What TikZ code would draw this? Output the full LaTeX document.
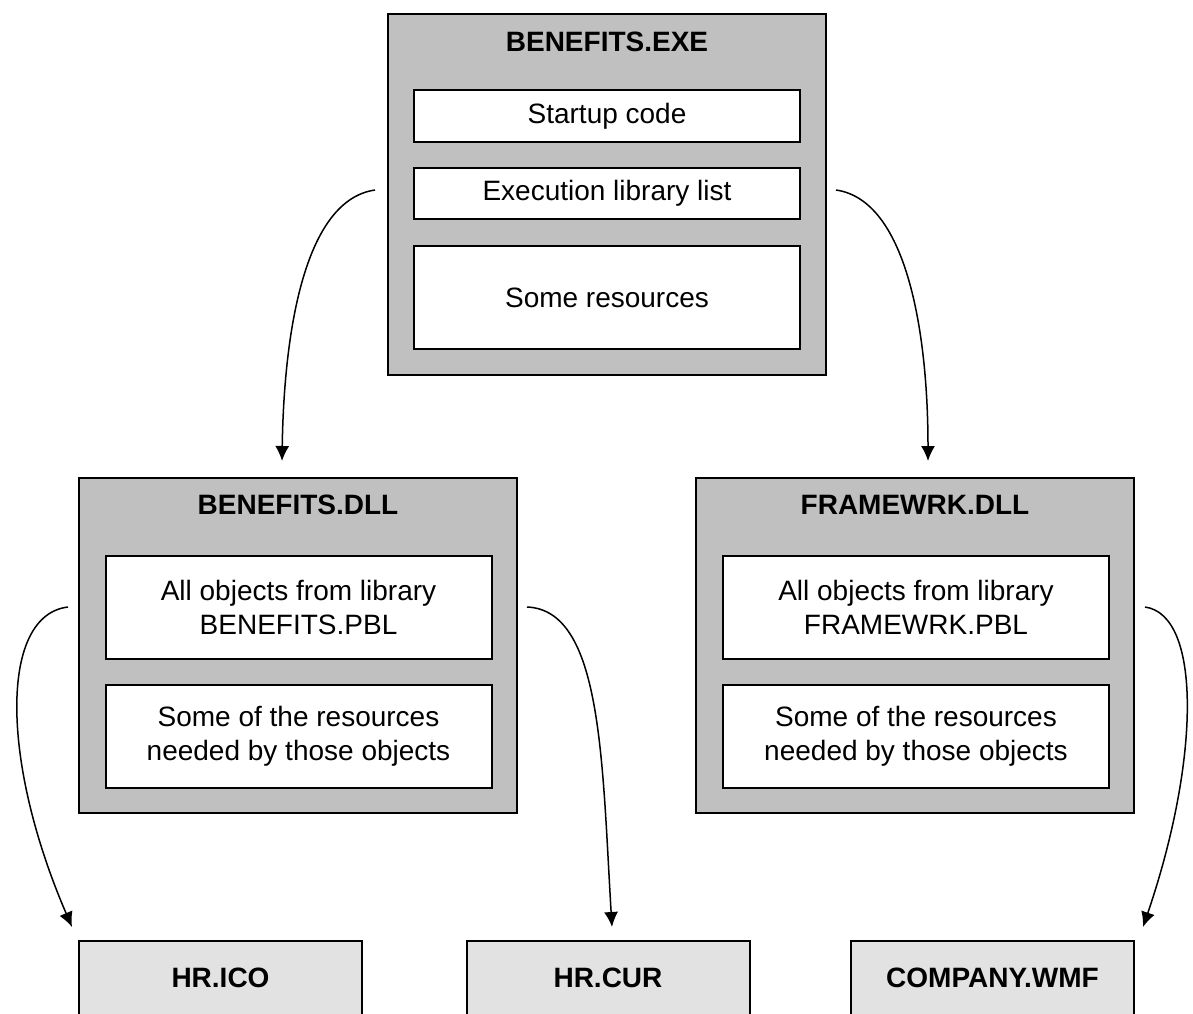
\documentclass[tikz,border=0pt]{standalone}
\usepackage{fontspec}
\setmainfont{Liberation Sans}
\usetikzlibrary{arrows.meta}

\definecolor{boxgray}{RGB}{192,192,192}
\definecolor{filegray}{RGB}{226,226,226}

\begin{document}
\begin{tikzpicture}[
    x=1pt, y=-1pt,
    font=\fontsize{28}{34}\selectfont,
    -{Latex[length=15pt,width=14pt]}, % arrows point to the target
    line width=1.5pt,
    module/.style={draw, -, line width=2pt, fill=boxgray, minimum width=438pt, inner sep=0pt},
    part/.style={draw, -, line width=2pt, fill=white, minimum width=386pt, inner sep=0pt, align=center},
    resfile/.style={draw, -, line width=2pt, fill=filegray, minimum width=283pt, minimum height=100pt, inner sep=0pt},
    title/.style={font=\fontsize{28}{34}\selectfont\bfseries}
]
\useasboundingbox (0,0) rectangle (1193,1013);
\clip (0,0) rectangle (1193,1013);

% Define the nodes
\node[module, minimum height=361pt] (exe) at (607,194.5) {};
\node[title] (exet) at (607,42) {BENEFITS.EXE};
\node[part, minimum height=52pt] (start) at (607,116) {Startup code};
\node[part, minimum height=51pt] (list) at (607,193.5) {Execution library list};
\node[part, minimum height=103pt] (res) at (607,297.5) {Some resources};

\node[module, minimum height=335pt] (bdll) at (298,645.5) {};
\node[title] (bdllt) at (298,505) {BENEFITS.DLL};
\node[part, minimum height=103pt] (bobj) at (298.5,607.5) {All objects from library\\BENEFITS.PBL};
\node[part, minimum height=103pt] (bres) at (298.5,736.5) {Some of the resources\\needed by those objects};

\node[module, minimum height=335pt] (fdll) at (915,645.5) {};
\node[title] (fdllt) at (915,505) {FRAMEWRK.DLL};
\node[part, minimum height=103pt] (fobj) at (916,607.5) {All objects from library\\FRAMEWRK.PBL};
\node[part, minimum height=103pt] (fres) at (916,736.5) {Some of the resources\\needed by those objects};

\node[resfile] (ico) at (220.5,991) {};
\node[title] at (220.5,978) {HR.ICO};
\node[resfile] (cur) at (608,991) {};
\node[title] at (608,978) {HR.CUR};
\node[resfile] (wmf) at (992.5,991) {};
\node[title] at (992.5,978) {COMPANY.WMF};

% Free ends of the connectors
\coordinate (exeL) at (375,190);
\coordinate (exeR) at (836,190);
\coordinate (bL) at (68,607);
\coordinate (bR) at (527,607);
\coordinate (fR) at (1145,607);

% Define the directed edges
\draw (exeL) .. controls (305,200) and (284,330) .. ([yshift=16pt]bdll.north -| 282,0);
\draw (exeR) .. controls (906,200) and (928,330) .. ([yshift=16pt]fdll.north -| 928,0);
\draw (bL) .. controls (0,615) and (0,760) .. ([yshift=13pt]ico.north -| 72,0);
\draw (bR) .. controls (602,610) and (602,760) .. ([yshift=13pt]cur.north -| 612,0);
\draw (fR) .. controls (1202,615) and (1200,760) .. ([yshift=13pt]wmf.north -| 1143,0);

\end{tikzpicture}
\end{document}
